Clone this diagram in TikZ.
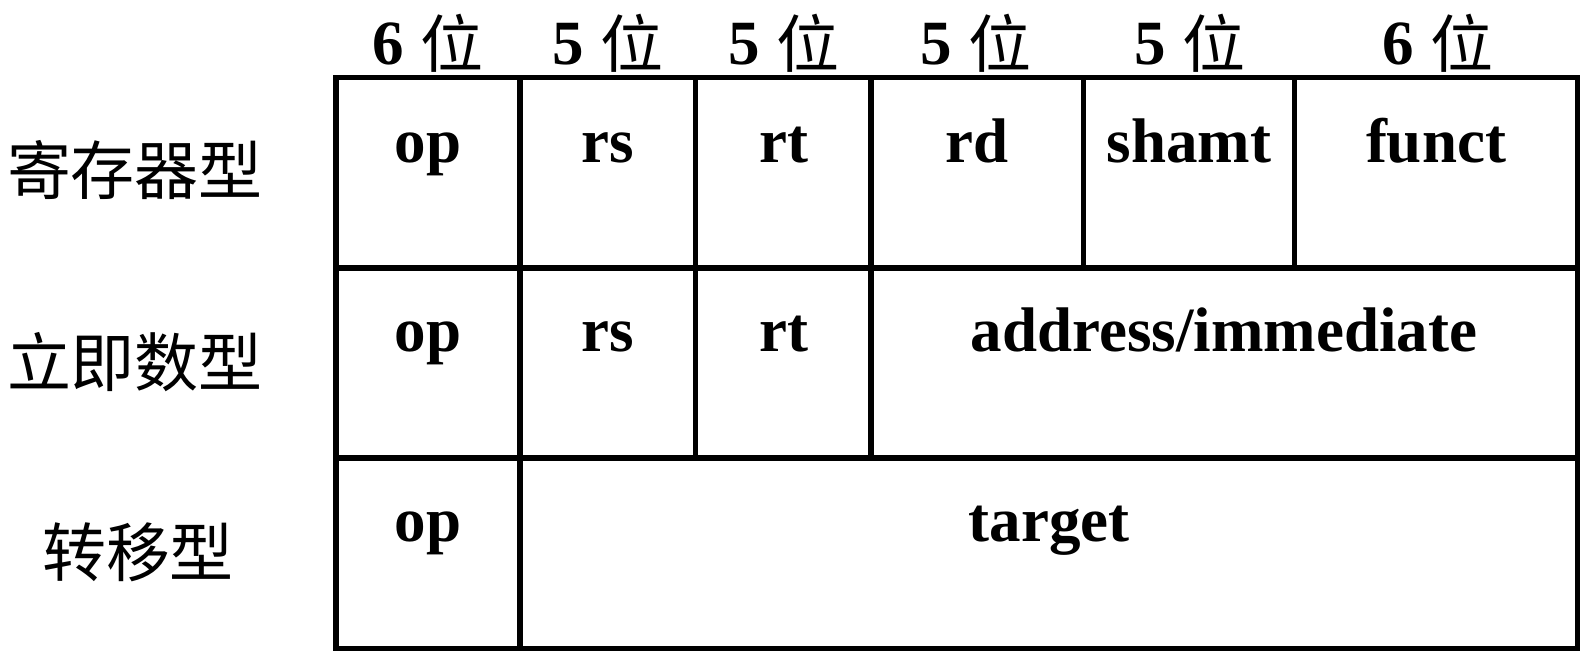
\documentclass[tikz,border=0pt]{standalone}
\usepackage{fontspec}
\setmainfont{Liberation Serif}
\newfontfamily\cjk{Noto Sans CJK SC}
\newcommand{\bitunit}{\raisebox{-1.5pt}{\cjk\mdseries 位}}
\begin{document}
\begin{tikzpicture}[x=0.5pt,y=-0.5pt,
  field/.style={font=\fontsize{31.5}{34}\selectfont\bfseries, anchor=base, inner sep=0pt},
  kind/.style={font=\fontsize{32}{34}\selectfont\cjk, anchor=center, inner sep=0pt},
  rule/.style={line width=2.75pt, line join=miter, line cap=rect}]
\useasboundingbox (0,0) rectangle (1587,661);

% outer frame and row separators
\draw[rule] (336,77.5) rectangle (1577.5,648.5);
\draw[rule] (336,268) -- (1577.5,268);
\draw[rule] (336,458) -- (1577.5,458);
% field separators
\draw[rule] (520,77.5) -- (520,648.5);
\draw[rule] (695.5,77.5) -- (695.5,458);
\draw[rule] (871,77.5) -- (871,458);
\draw[rule] (1083.5,77.5) -- (1083.5,268);
\draw[rule] (1294.5,77.5) -- (1294.5,268);

% bit widths
\node[field] (w1) at (428,64) {6 \bitunit};
\node[field] (w2) at (608,64) {5 \bitunit};
\node[field] (w3) at (784,64) {5 \bitunit};
\node[field] (w4) at (976,64) {5 \bitunit};
\node[field] (w5) at (1190,64) {5 \bitunit};
\node[field] (w6) at (1438,64) {6 \bitunit};

% instruction formats
\node[kind] (rtype) at (135,170) {寄存器型};
\node[kind] (itype) at (135,362) {立即数型};
\node[kind] (jtype) at (138,552) {转移型};

% R-type fields
\node[field] (r-op)    at (428,162) {op};
\node[field] (r-rs)    at (608,162) {rs};
\node[field] (r-rt)    at (784,162) {rt};
\node[field] (r-rd)    at (977,162) {rd};
\node[field] (r-shamt) at (1189,162) {shamt};
\node[field] (r-funct) at (1436,162) {funct};

% I-type fields
\node[field] (i-op)  at (428,351) {op};
\node[field] (i-rs)  at (608,351) {rs};
\node[field] (i-rt)  at (784,351) {rt};
\node[field] (i-imm) at (1224,351) {address/immediate};

% J-type fields
\node[field] (j-op)     at (428,541) {op};
\node[field] (j-target) at (1049,541) {target};
\end{tikzpicture}
\end{document}
